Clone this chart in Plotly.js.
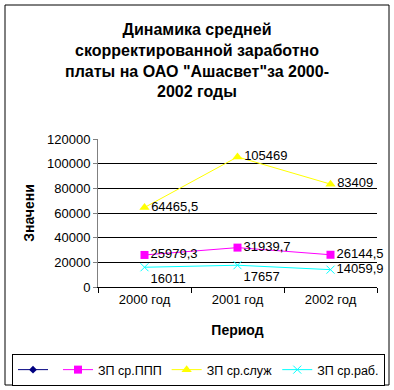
<!DOCTYPE html>
<html><head><meta charset="utf-8">
<script src="https://cdn.plot.ly/plotly-3.0.1.min.js"></script>
<style>body{margin:0;padding:0;background:#fff}#c{width:394px;height:390px}</style>
</head><body><div id="c"></div>
<script>
const categories = ["2000 год", "2001 год", "2002 год"];
const seriesNames = ["", "ЗП ср.ППП", "ЗП ср.служ", "ЗП ср.раб."];
const blankSeries = [null, null, null];
const pppValues = [25979.3, 31939.7, 26144.5];
const slujValues = [64465.5, 105469, 83409];
const rabValues = [16011, 17657, 14059.9];
const yTicks = [0, 20000, 40000, 60000, 80000, 100000, 120000];

const fmt = v => String(v).replace('.', ',');
const FONT = 'Liberation Sans, Arial, sans-serif';
const lblFont = {family: FONT, size: 13, color: '#000'};

const traces = [
  {x: categories, y: blankSeries, name: seriesNames[0], mode: 'lines+markers',
   line: {color: '#000080', width: 1}, marker: {symbol: 'diamond', size: 6, color: '#000080'}},
  {x: categories, y: pppValues, name: seriesNames[1], mode: 'lines+markers+text', cliponaxis: false,
   text: pppValues.map(fmt), textposition: 'middle right', textfont: lblFont,
   line: {color: '#FF00FF', width: 1}, marker: {symbol: 'square', size: 8, color: '#FF00FF'}},
  {x: categories, y: slujValues, name: seriesNames[2], mode: 'lines+markers+text', cliponaxis: false,
   text: slujValues.map(fmt), textposition: 'middle right', textfont: lblFont,
   line: {color: '#FFFF00', width: 1}, marker: {symbol: 'triangle-up', size: 9, color: '#FFFF00'}},
  {x: categories, y: rabValues, name: seriesNames[3], mode: 'lines+markers+text', cliponaxis: false,
   text: rabValues.map(fmt), textposition: ['bottom right', 'bottom right', 'middle right'], textfont: lblFont,
   line: {color: '#00FFFF', width: 1}, marker: {symbol: 'x-thin', size: 8, color: '#00FFFF', line: {color: '#00FFFF', width: 1}}}
];

const W = 279, H = 148, L = 98, T = 139;
const px = x => (x - L) / W;
const py = y => (T + H - y) / H;

const layout = {
  width: 394, height: 390,
  margin: {l: 98, r: 17, t: 139, b: 103, autoexpand: false},
  paper_bgcolor: '#fff', plot_bgcolor: '#fff',
  font: {family: FONT, size: 13, color: '#000'},
  title: {text: '<b>Динамика средней<br>скорректированной заработно<br>платы на ОАО "Ашасвет"за 2000-<br>2002 годы</b>',
          font: {family: FONT, size: 16, color: '#000'}, x: 0.5, xref: 'container', y: 1 - 35/390, yref: 'container', yanchor: 'top'},
  xaxis: {type: 'category', showgrid: false, showline: true, linecolor: '#000', linewidth: 1,
          ticks: 'outside', tickson: 'boundaries', ticklen: 5, tickcolor: '#000',
          tickfont: {family: FONT, size: 13}, range: [-0.5, 2.5], automargin: true,
          title: {text: '<b>Период</b>', font: {family: FONT, size: 14}, standoff: 19}},
  yaxis: {range: [0, 120000], tickvals: yTicks, ticktext: yTicks.map(String),
          showgrid: true, gridcolor: '#000', gridwidth: 1, zeroline: false,
          showline: true, linecolor: '#808080', ticks: 'outside', ticklen: 4, tickcolor: '#808080',
          tickfont: {family: FONT, size: 13}, automargin: true,
          title: {text: '<b>Значени</b>', font: {family: FONT, size: 14}, standoff: 9}},
  showlegend: true,
  legend: {orientation: 'h', x: px(12), y: py(354), xanchor: 'left', yanchor: 'top',
           bordercolor: '#000', borderwidth: 1, bgcolor: '#fff',
           font: {family: FONT, size: 12.5}, itemwidth: 30, tracegroupgap: 0},
  shapes: [{type: 'rect', xref: 'paper', yref: 'paper', x0: px(5), x1: px(389), y0: py(385), y1: py(5),
            line: {color: '#000', width: 1}, fillcolor: 'rgba(0,0,0,0)', layer: 'below'}]
};

Plotly.newPlot('c', traces, layout, {displayModeBar: false, staticPlot: true});
</script></body></html>
